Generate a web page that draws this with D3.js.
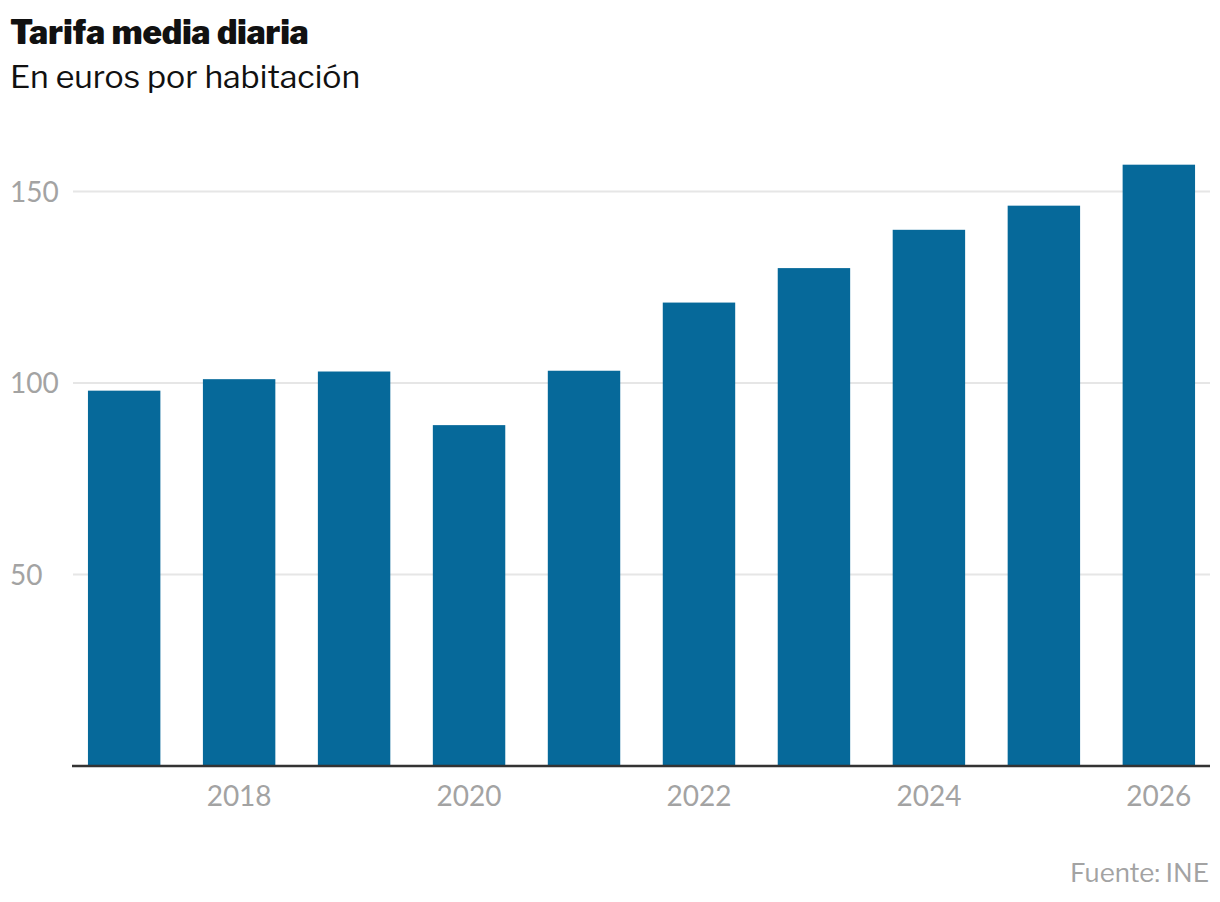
<!DOCTYPE html>
<html><head><meta charset="utf-8">
<script src="https://cdn.jsdelivr.net/npm/d3@7"></script>
<style>
html,body{margin:0;padding:0;background:#fff;}
svg{display:block;}
</style></head>
<body>
<svg id="chart" width="1220" height="902"></svg>
<script>
const years = [2017, 2018, 2019, 2020, 2021, 2022, 2023, 2024, 2025, 2026];
const values = [98, 101, 103, 89, 103.2, 121, 130, 140, 146.3, 157];
const yTicks = [50, 100, 150];
const xTickLabels = [2018, 2020, 2022, 2024, 2026];
const title = "Tarifa media diaria";
const subtitle = "En euros por habitación";
const source = "Fuente: INE";

(function () {
const svg = d3.select("#chart");
const plotLeft = 73, plotRight = 1210, plotTop = 191.5, plotBottom = 766;

const x = d3.scaleBand().domain(years).range([plotLeft, plotRight]).paddingInner(0.37).paddingOuter(0.13);
const y = d3.scaleLinear().domain([0, 150]).range([plotBottom, plotTop]);

// gridlines
svg.append("g").selectAll("line").data(yTicks).join("line")
  .attr("x1", plotLeft).attr("x2", plotRight)
  .attr("y1", d => y(d)).attr("y2", d => y(d))
  .attr("stroke", "#e6e6e6").attr("stroke-width", 2);

// y labels
svg.append("g").selectAll("text").data(yTicks).join("text")
  .attr("x", 10).attr("y", d => y(d)).attr("dy", "0.37em")
  .attr("font-family", "Lato, sans-serif").attr("font-size", 28)
  .attr("fill", "#a3a3a3").text(d => d);

// bars
svg.append("g").selectAll("rect").data(years).join("rect")
  .attr("x", d => x(d)).attr("width", x.bandwidth())
  .attr("y", (d, i) => y(values[i])).attr("height", (d, i) => plotBottom - y(values[i]))
  .attr("fill", "#06699a");

// x axis
const xAxis = d3.axisBottom(x).tickValues(xTickLabels).tickSize(0).tickPadding(0);
const gx = svg.append("g").attr("transform", `translate(0,${plotBottom})`).call(xAxis);
gx.select(".domain").attr("stroke", "#333").attr("stroke-width", 2.4)
  .attr("d", `M${plotLeft - 1},0H${plotRight}`);
gx.selectAll(".tick text").attr("font-family", "Lato, sans-serif").attr("font-size", 28)
  .attr("fill", "#a3a3a3").attr("y", 40).attr("dy", 0);

// title / subtitle / source
svg.append("text").attr("x", 10).attr("y", 44)
  .attr("font-family", "'Libre Franklin', Roboto, sans-serif").attr("font-weight", 900)
  .attr("font-size", 33).attr("fill", "#111").text(title);
svg.append("text").attr("x", 10).attr("y", 88)
  .attr("font-family", "'Libre Franklin', Roboto, sans-serif").attr("font-weight", 400)
  .attr("font-size", 32).attr("fill", "#111").text(subtitle);
svg.append("text").attr("x", 1209).attr("y", 882).attr("text-anchor", "end")
  .attr("font-family", "'Libre Franklin', Roboto, sans-serif")
  .attr("font-size", 26).attr("fill", "#a3a3a3").text(source);
})();
</script>
</body></html>
